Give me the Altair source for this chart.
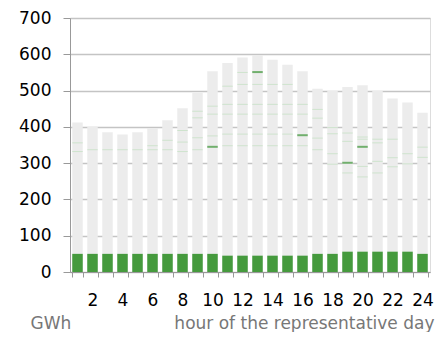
import altair as alt
import pandas as pd

hours = list(range(1, 25))
totals = [412, 400, 385, 379, 385, 396, 418, 451, 494, 553, 576, 591,
          598, 585, 571, 553, 505, 499, 510, 515, 499, 478, 467, 439]
green = [50, 50, 50, 50, 50, 50, 50, 50, 50, 50, 45, 45,
         45, 45, 45, 45, 50, 50, 56, 56, 56, 56, 56, 50]
light_lines = [
    [356, 332], [337], [337], [337], [337], [348, 337], [363, 337],
    [390, 358, 332], [443, 425, 370, 337], [457, 435, 375],
    [512, 462, 435, 380, 348], [550, 517, 462, 435, 380, 348],
    [517, 462, 435, 380, 348], [517, 462, 435, 380, 348],
    [517, 462, 435, 380, 348], [462, 435, 348],
    [448, 424, 369, 337], [398, 381, 326, 297], [383, 360, 273],
    [372, 366, 291, 262], [366, 356, 305, 273], [366, 315, 290],
    [326, 298], [344, 316],
]
dark_hours = [10, 13, 16, 19, 20]
dark_values = [345, 551, 377, 301, 345]
y_ticks = [0, 100, 200, 300, 400, 500, 600, 700]

FONT = "DejaVu Sans"

bars_df = pd.DataFrame({"hour": hours, "total": totals, "green": green})
light_df = pd.DataFrame([{"hour": h, "v": v}
                         for h, vs in zip(hours, light_lines) for v in vs])
dark_df = pd.DataFrame({"hour": dark_hours, "v": dark_values})

x_axis = alt.Axis(
    title="hour of the representative day",
    labelExpr="datum.value % 2 == 0 ? datum.label : ''",
    labelAngle=0, labelOverlap=False, labelFlush=False,
    tickBand="extent", tickSize=5, tickColor="#999", domainColor="#999",
    grid=False, labelFont=FONT, labelFontSize=17, labelColor="#000",
    labelPadding=15, titleFont=FONT, titleFontSize=17,
    titleFontWeight="normal", titleColor="#777", titleX=364, titleY=56,
    titleAlign="right", titleBaseline="alphabetic",
)
y_axis = alt.Axis(
    title="GWh", values=y_ticks, tickSize=7, tickColor="#999",
    domainColor="#999", labelPadding=12, labelFont=FONT, labelFontSize=17,
    labelColor="#000", grid=True, gridColor="#c4c4c4", gridWidth=1.5,
    titleFont=FONT, titleFontSize=17, titleFontWeight="normal",
    titleColor="#777", titleAngle=0, titleX=-40, titleY=310,
    titleAlign="left", titleBaseline="alphabetic",
)
x_scale = alt.Scale(paddingInner=0.3, paddingOuter=0.15)
y_scale = alt.Scale(domain=[0, 700], nice=False)


def X():
    return alt.X("hour:O", scale=x_scale, axis=x_axis)


def Y(field):
    return alt.Y(field, scale=y_scale, axis=y_axis)


gray = alt.Chart(bars_df).mark_bar(color="#ececec").encode(x=X(), y=Y("total:Q"))
gbar = alt.Chart(bars_df).mark_bar(color="#459a3d").encode(x=X(), y=Y("green:Q"))
light = alt.Chart(light_df).mark_tick(
    color="#c2dfc0", thickness=1, size=10.5).encode(x=X(), y=Y("v:Q"))
dark = alt.Chart(dark_df).mark_tick(
    color="#3d9637", thickness=2, size=10.5).encode(x=X(), y=Y("v:Q"))

chart = alt.layer(gray, gbar, light, dark).properties(
    width=360, height=254, autosize="none",
    padding={"left": 62, "top": 10, "right": 5, "bottom": 60},
).configure_view(stroke=None).configure(background="white")

chart.save("out.html", embed_options={"renderer": "svg", "actions": False})
